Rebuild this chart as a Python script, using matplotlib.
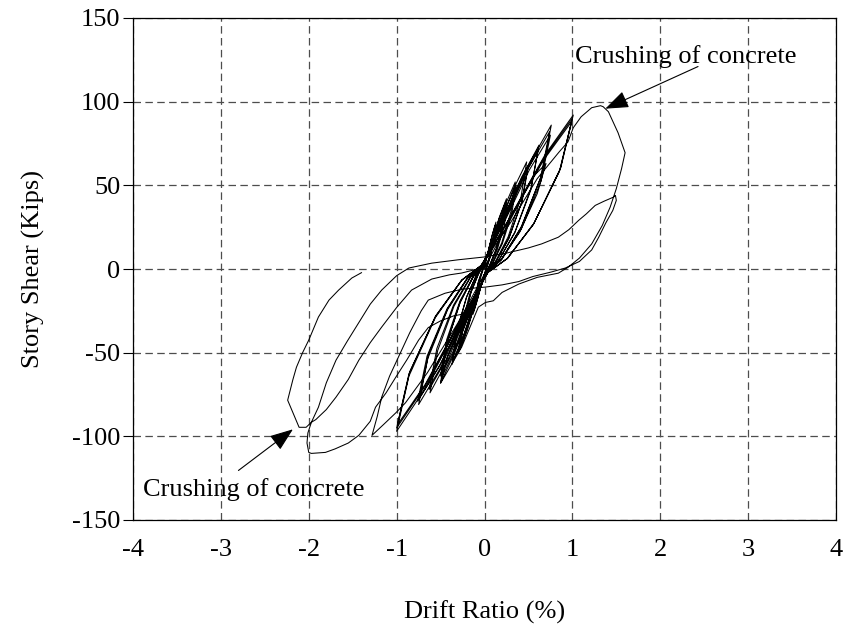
import matplotlib
matplotlib.use("Agg")
import matplotlib.pyplot as plt

plt.rcParams["font.family"] = ["Liberation Serif", "DejaVu Serif"]
plt.rcParams["axes.unicode_minus"] = False

# ---- hysteresis record: drift ratio (%) vs story shear (kips) ----
# elastic / early cycles at +-0.1 %
cyc_010 = [
    (0.0, 0.0),
    (0.024, 6.3), (0.054, 13.3), (0.08, 18), (0.069, 11.9), (0.045, 5.4), (0.021, 1.3), (0.01, -1.5),
    (-0.024, -6.3), (-0.054, -13.3), (-0.08, -18), (-0.069, -11.9), (-0.045, -5.4), (-0.021, -1.3), (-0.01, 1.5),
    (0.036, 9.1), (0.082, 19.2), (0.12, 26), (0.103, 17.2), (0.067, 7.8), (0.031, 1.8), (0.01, -1.5),
    (-0.036, -8.8), (-0.082, -18.5), (-0.12, -25), (-0.103, -16.5), (-0.067, -7.5), (-0.031, -1.8), (-0.01, 1.5),
    (0.04, 9.8), (0.09, 20.7), (0.13, 28), (0.11, 18.5), (0.073, 8.4), (0.034, 2), (0.01, -1.5),
    (-0.04, -9.5), (-0.09, -20), (-0.13, -27), (-0.11, -17.8), (-0.073, -8.1), (-0.034, -1.9), (-0.01, 1.5),
]

# cycles at +-0.25 %
cyc_025 = [
    (0.075, 14.7), (0.17, 31.1), (0.25, 42), (0.215, 27.7), (0.14, 12.6), (0.065, 2.9), (0.02, -2),
    (-0.084, -16.8), (-0.19, -35.5), (-0.28, -48), (-0.24, -31.7), (-0.157, -14.4), (-0.073, -3.4), (-0.02, 2),
    (0.072, 14), (0.163, 29.6), (0.24, 40), (0.206, 26.4), (0.134, 12), (0.062, 2.8), (0.02, -2),
    (-0.09, -17.5), (-0.204, -37), (-0.3, -50), (-0.258, -33), (-0.168, -15), (-0.078, -3.5), (-0.02, 2),
    (0.078, 13.7), (0.177, 28.9), (0.26, 39), (0.224, 25.7), (0.146, 11.7), (0.068, 2.7), (0.02, -2),
    (-0.081, -15.8), (-0.184, -33.3), (-0.27, -45), (-0.232, -29.7), (-0.151, -13.5), (-0.07, -3.2), (-0.02, 2),
]

# cycles at +-0.35 %
cyc_035 = [
    (0.105, 18.2), (0.238, 38.5), (0.35, 52), (0.301, 34.3), (0.196, 15.6), (0.091, 3.6), (0.02, -2),
    (-0.111, -20), (-0.252, -42.2), (-0.37, -57), (-0.318, -37.6), (-0.207, -17.1), (-0.096, -4), (-0.02, 2),
    (0.108, 17.5), (0.245, 37), (0.36, 50), (0.31, 33), (0.202, 15), (0.094, 3.5), (0.02, -2),
    (-0.108, -19.3), (-0.245, -40.7), (-0.36, -55), (-0.31, -36.3), (-0.202, -16.5), (-0.094, -3.9), (-0.02, 2),
]

# cycles at +-0.5 %
cyc_050 = [
    (0.144, 22.4), (0.326, 47.4), (0.48, 64), (0.413, 42.2), (0.269, 19.2), (0.125, 4.5), (0.02, -2),
    (-0.15, -23.8), (-0.34, -50.3), (-0.5, -68), (-0.43, -44.9), (-0.28, -20.4), (-0.13, -4.8), (-0.02, 2),
    (0.15, 21.7), (0.34, 45.9), (0.5, 62), (0.43, 40.9), (0.28, 18.6), (0.13, 4.3), (0.02, -2),
    (-0.147, -22.8), (-0.333, -48.1), (-0.49, -65), (-0.421, -42.9), (-0.274, -19.5), (-0.127, -4.6), (-0.02, 2),
    (0.147, 21), (0.333, 44.4), (0.49, 60), (0.421, 39.6), (0.274, 18), (0.127, 4.2), (0.02, -2),
    (-0.15, -22.4), (-0.34, -47.4), (-0.5, -64), (-0.43, -42.2), (-0.28, -19.2), (-0.13, -4.5), (-0.02, 2),
]

# cycles at +-0.6 %
cyc_060 = [
    (0.186, 25.9), (0.422, 54.8), (0.62, 74), (0.533, 48.8), (0.347, 22.2), (0.161, 5.2), (0.03, -2),
    (-0.186, -25.9), (-0.422, -54.8), (-0.62, -74), (-0.533, -48.8), (-0.347, -22.2), (-0.161, -5.2), (-0.03, 2),
    (0.183, 24.9), (0.415, 52.5), (0.61, 71), (0.525, 46.9), (0.342, 21.3), (0.159, 5), (0.03, -2),
    (-0.189, -25.2), (-0.428, -53.3), (-0.63, -72), (-0.542, -47.5), (-0.353, -21.6), (-0.164, -5), (-0.03, 2),
]

# cycles at +-0.75 %
cyc_075 = [
    (0.228, 30.1), (0.517, 63.6), (0.76, 86), (0.654, 56.8), (0.426, 25.8), (0.198, 6), (0.03, -2),
    (-0.225, -28.4), (-0.51, -59.9), (-0.75, -81), (-0.645, -53.5), (-0.42, -24.3), (-0.195, -5.7), (-0.03, 2),
    (0.222, 28.7), (0.503, 60.7), (0.74, 82), (0.636, 54.1), (0.414, 24.6), (0.192, 5.7), (0.03, -2),
    (-0.228, -27.7), (-0.517, -58.5), (-0.76, -79), (-0.654, -52.1), (-0.426, -23.7), (-0.198, -5.5), (-0.03, 2),
    (0.225, 28), (0.51, 59.2), (0.75, 80), (0.645, 52.8), (0.42, 24), (0.195, 5.6), (0.03, -2),
    (-0.222, -27), (-0.503, -57), (-0.74, -77), (-0.636, -50.8), (-0.414, -23.1), (-0.192, -5.4), (-0.03, 2),
]

# cycles at +-1.0 %
cyc_100 = [
    (0.303, 32.2), (0.687, 68.1), (1.01, 92), (0.869, 60.7), (0.566, 27.6), (0.263, 6.4), (0.04, -2),
    (-0.3, -34), (-0.68, -71.8), (-1.0, -97), (-0.86, -64), (-0.56, -29.1), (-0.26, -6.8), (-0.04, 2),
    (0.297, 30.8), (0.673, 65.1), (0.99, 88), (0.851, 58.1), (0.554, 26.4), (0.257, 6.2), (0.04, -2),
    (-0.297, -32.6), (-0.673, -68.8), (-0.99, -93), (-0.851, -61.4), (-0.554, -27.9), (-0.257, -6.5), (-0.04, 2),
    (0.3, 31.5), (0.68, 66.6), (1.0, 90), (0.86, 59.4), (0.56, 27), (0.26, 6.3), (0.04, -2),
    (-0.3, -33.3), (-0.68, -70.3), (-1.0, -95), (-0.86, -62.7), (-0.56, -28.5), (-0.26, -6.7), (-0.04, 2),
]

# positive excursion to peak strength (concrete crushing)
crush_pos = [
    (0.3, 28), (0.6, 54), (0.85, 70), (0.95, 76), (1.01, 84.4), (1.10, 91), (1.22, 96.4),
    (1.32, 97.6), (1.35, 97), (1.41, 94), (1.52, 81.4), (1.60, 69.5), (1.56, 60), (1.50, 48),
    (1.43, 37), (1.34, 26), (1.22, 15), (1.08, 6.5), (0.95, 1), (0.84, -2.5), (0.6, -5),
    (0.39, -9), (0.2, -14), (0.1, -19), (0.01, -20),
]

# short negative spike after unloading
spike_neg = [
    (-0.07, -22.8), (-0.26, -46.7), (-0.5, -68.3), (-0.42, -52), (-0.3, -38), (-0.15, -26),
]

# negative excursion to -2 % (concrete crushing)
crush_neg = [
    (-0.35, -28), (-0.5, -31), (-0.64, -35), (-0.75, -42.5), (-0.88, -54),
    (-1.01, -64.7), (-1.12, -74), (-1.24, -82.6), (-1.30, -91), (-1.43, -99.4), (-1.55, -104),
    (-1.7, -107.5), (-1.81, -109.6), (-1.97, -110.2), (-2.0, -109.6), (-2.02, -104), (-2.01, -98),
    (-1.97, -91.6), (-1.92, -90), (-1.8, -84), (-1.69, -76.6), (-1.55, -66), (-1.43, -54.5),
    (-1.3, -44), (-1.17, -34.7), (-1.0, -23), (-0.83, -12.6), (-0.6, -6), (-0.4, -3.5),
    (-0.26, -2.4), (0.0, 1),
]

# re-cycling inside the elastic bundle and the -1.3 % excursion
recycle = [
    (0.3, 30), (0.55, 55), (0.7, 63), (0.6, 45), (0.4, 22), (0.18, 5), (0.0, -3),
    (-0.3, -32), (-0.65, -62), (-0.9, -80), (-1.01, -86), (-1.15, -93), (-1.28, -99.4),
    (-1.22, -88), (-1.17, -76.6), (-1.08, -64), (-0.98, -52.7), (-0.85, -38), (-0.72, -25),
    (-0.64, -18.6), (-0.45, -14.5), (-0.25, -12), (0.01, -10.8),
]

# degraded loop to 1.5 % and final negative excursion
final = [
    (0.2, -9.5), (0.39, -7.5), (0.55, -4.5), (0.76, -1.8), (0.92, 0.6), (1.08, 4.5),
    (1.22, 11.4), (1.3, 19), (1.38, 27.5), (1.46, 35), (1.5, 41), (1.49, 44), (1.47, 43),
    (1.36, 40.5), (1.26, 38), (1.16, 33), (1.07, 29), (0.96, 23.5), (0.84, 19), (0.65, 15),
    (0.5, 12.6), (0.25, 9.5), (0.0, 7.2), (-0.3, 5.5), (-0.6, 3.5), (-0.86, 0.6), (-1.0, -4),
    (-1.17, -12.6), (-1.3, -21), (-1.43, -32), (-1.56, -43), (-1.69, -54.5), (-1.8, -68),
    (-1.89, -82.6), (-1.97, -91.6), (-2.03, -94.6), (-2.11, -94.6), (-2.24, -78.4),
    (-2.18, -66), (-2.14, -58.7), (-2.07, -50), (-2.0, -42.5), (-1.89, -28.7), (-1.77, -18.6),
    (-1.66, -12.6), (-1.51, -5.4), (-1.4, -2.2),
]

segments = [cyc_010, cyc_025, cyc_035, cyc_050, cyc_060, cyc_075, cyc_100,
            crush_pos, spike_neg, crush_neg, recycle, final]
drift = [p[0] for seg in segments for p in seg]
shear = [p[1] for seg in segments for p in seg]

x_ticks = [-4, -3, -2, -1, 0, 1, 2, 3, 4]
y_ticks = [-150, -100, -50, 0, 50, 100, 150]

label_text = "Crushing of concrete"
pos_tip = (1.375, 95.8)
pos_tail = (2.43, 121)
pos_text = (1.03, 127)
neg_tip = (-2.18, -95.8)
neg_tail = (-2.8, -120.4)
neg_text = (-3.89, -131.7)

fig = plt.figure(figsize=(8.5, 6.27), dpi=100)
ax = fig.add_axes([133 / 850, 1 - 520 / 627, 703 / 850, 502 / 627])

ax.plot(drift, shear, color="black", lw=0.75, solid_joinstyle="round", zorder=3)

ax.set_xlim(-4, 4)
ax.set_ylim(-150, 150)
ax.set_xticks(x_ticks)
ax.set_yticks(y_ticks)
ax.tick_params(axis="y", direction="out", length=7, width=0.8, pad=2, labelsize=19)
ax.tick_params(axis="x", length=0, pad=14, labelsize=19)
ax.grid(True, color="0.3", lw=0.9, linestyle=(0, (6, 3.5)))
ax.set_axisbelow(True)
for s in ax.spines.values():
    s.set_linewidth(0.9)
    s.set_color("black")

ax.set_xlabel("Drift Ratio (%)", fontsize=19)
ax.set_ylabel("Story Shear (Kips)", fontsize=19)
ax.xaxis.set_label_coords(0.5, -0.16)
ax.yaxis.set_label_coords(-0.125, 0.5)

arrow = dict(arrowstyle="-|>,head_length=0.8,head_width=0.3", color="black", lw=0.8,
             shrinkA=0, shrinkB=0, mutation_scale=18)
ax.annotate("", xy=pos_tip, xytext=pos_tail, arrowprops=arrow, zorder=4)
ax.annotate("", xy=neg_tip, xytext=neg_tail, arrowprops=arrow, zorder=4)
ax.text(*pos_text, label_text, fontsize=19, ha="left", va="center", zorder=4)
ax.text(*neg_text, label_text, fontsize=19, ha="left", va="center", zorder=4)

fig.savefig("out.png", dpi=100)
